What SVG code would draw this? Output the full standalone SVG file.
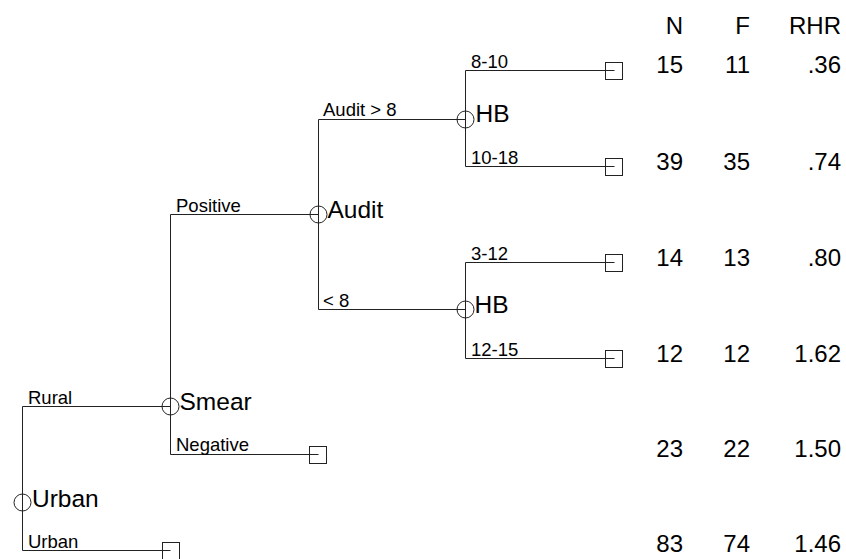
<svg xmlns="http://www.w3.org/2000/svg" width="846" height="559" viewBox="0 0 846 559">
<style>
.ln{stroke:#222;stroke-width:1;fill:none}
.nd{stroke:#222;stroke-width:1;fill:none}
.lbl{font-family:"Liberation Sans",Arial,sans-serif;font-size:18.5px;fill:#000}
.big{font-family:"Liberation Sans",Arial,sans-serif;font-size:24.5px;fill:#000}
.num{font-family:"Liberation Sans",Arial,sans-serif;font-size:24px;fill:#000;text-anchor:end}
</style>
<rect width="846" height="559" fill="#fff"/>
<g id="connectors">
<path class="ln" d="M22.5 406.5V550.5M22.5 406.5H170.5M22.5 550.5H170.5"/>
<path class="ln" d="M170.5 214.5V454.5M170.5 214.5H318.5M170.5 454.5H318.5"/>
<path class="ln" d="M318.5 119.5V309.5M318.5 119.5H465.5M318.5 309.5H465.5"/>
<path class="ln" d="M465.5 70.5V166.5M465.5 70.5H614.5M465.5 166.5H614.5"/>
<path class="ln" d="M465.5 262.5V358.5M465.5 262.5H614.5M465.5 358.5H614.5"/>
<text class="lbl" x="28" y="404">Rural</text>
<text class="lbl" x="28" y="548">Urban</text>
<text class="lbl" x="176" y="212">Positive</text>
<text class="lbl" x="176" y="451">Negative</text>
<text class="lbl" x="323" y="116">Audit &gt; 8</text>
<text class="lbl" x="323" y="307">&lt; 8</text>
<text class="lbl" x="471" y="68">8-10</text>
<text class="lbl" x="471" y="164">10-18</text>
<text class="lbl" x="471" y="260">3-12</text>
<text class="lbl" x="471" y="355.5">12-15</text>
</g>
<g id="node-urban">
<circle class="nd" cx="22.5" cy="502.5" r="8.5"/>
<text class="big" x="32" y="507">Urban</text>
</g>
<g id="node-smear">
<circle class="nd" cx="170.5" cy="406.5" r="8.5"/>
<text class="big" x="179.5" y="410">Smear</text>
</g>
<g id="node-audit">
<circle class="nd" cx="318.5" cy="214.5" r="8.5"/>
<text class="big" x="327.5" y="218">Audit</text>
</g>
<g id="node-hb1">
<circle class="nd" cx="465.5" cy="119.5" r="8.5"/>
<text class="big" x="475.5" y="122">HB</text>
</g>
<g id="node-hb2">
<circle class="nd" cx="465.5" cy="309.5" r="8.5"/>
<text class="big" x="474.5" y="313">HB</text>
</g>
<g id="leaf-1"><rect class="nd" x="605.5" y="62.5" width="17" height="17"/></g>
<g id="leaf-2"><rect class="nd" x="605.5" y="158.5" width="17" height="17"/></g>
<g id="leaf-3"><rect class="nd" x="605.5" y="254.5" width="17" height="17"/></g>
<g id="leaf-4"><rect class="nd" x="605.5" y="350.5" width="17" height="17"/></g>
<g id="leaf-5"><rect class="nd" x="309.5" y="446.5" width="17" height="17"/></g>
<g id="leaf-6"><rect class="nd" x="162.5" y="542.5" width="17" height="17"/></g>
<g id="table">
<text class="num" x="683" y="33.5">N</text>
<text class="num" x="750" y="33.5">F</text>
<text class="num" x="841" y="33.5">RHR</text>
<text class="num" x="683" y="72.5">15</text>
<text class="num" x="750" y="72.5">11</text>
<text class="num" x="841" y="72.5">.36</text>
<text class="num" x="683" y="169.5">39</text>
<text class="num" x="750" y="169.5">35</text>
<text class="num" x="841" y="169.5">.74</text>
<text class="num" x="683" y="266">14</text>
<text class="num" x="750" y="266">13</text>
<text class="num" x="841" y="266">.80</text>
<text class="num" x="683" y="361.5">12</text>
<text class="num" x="750" y="361.5">12</text>
<text class="num" x="841" y="361.5">1.62</text>
<text class="num" x="683" y="456.5">23</text>
<text class="num" x="750" y="456.5">22</text>
<text class="num" x="841" y="456.5">1.50</text>
<text class="num" x="683" y="551.5">83</text>
<text class="num" x="750" y="551.5">74</text>
<text class="num" x="841" y="551.5">1.46</text>
</g>
</svg>
